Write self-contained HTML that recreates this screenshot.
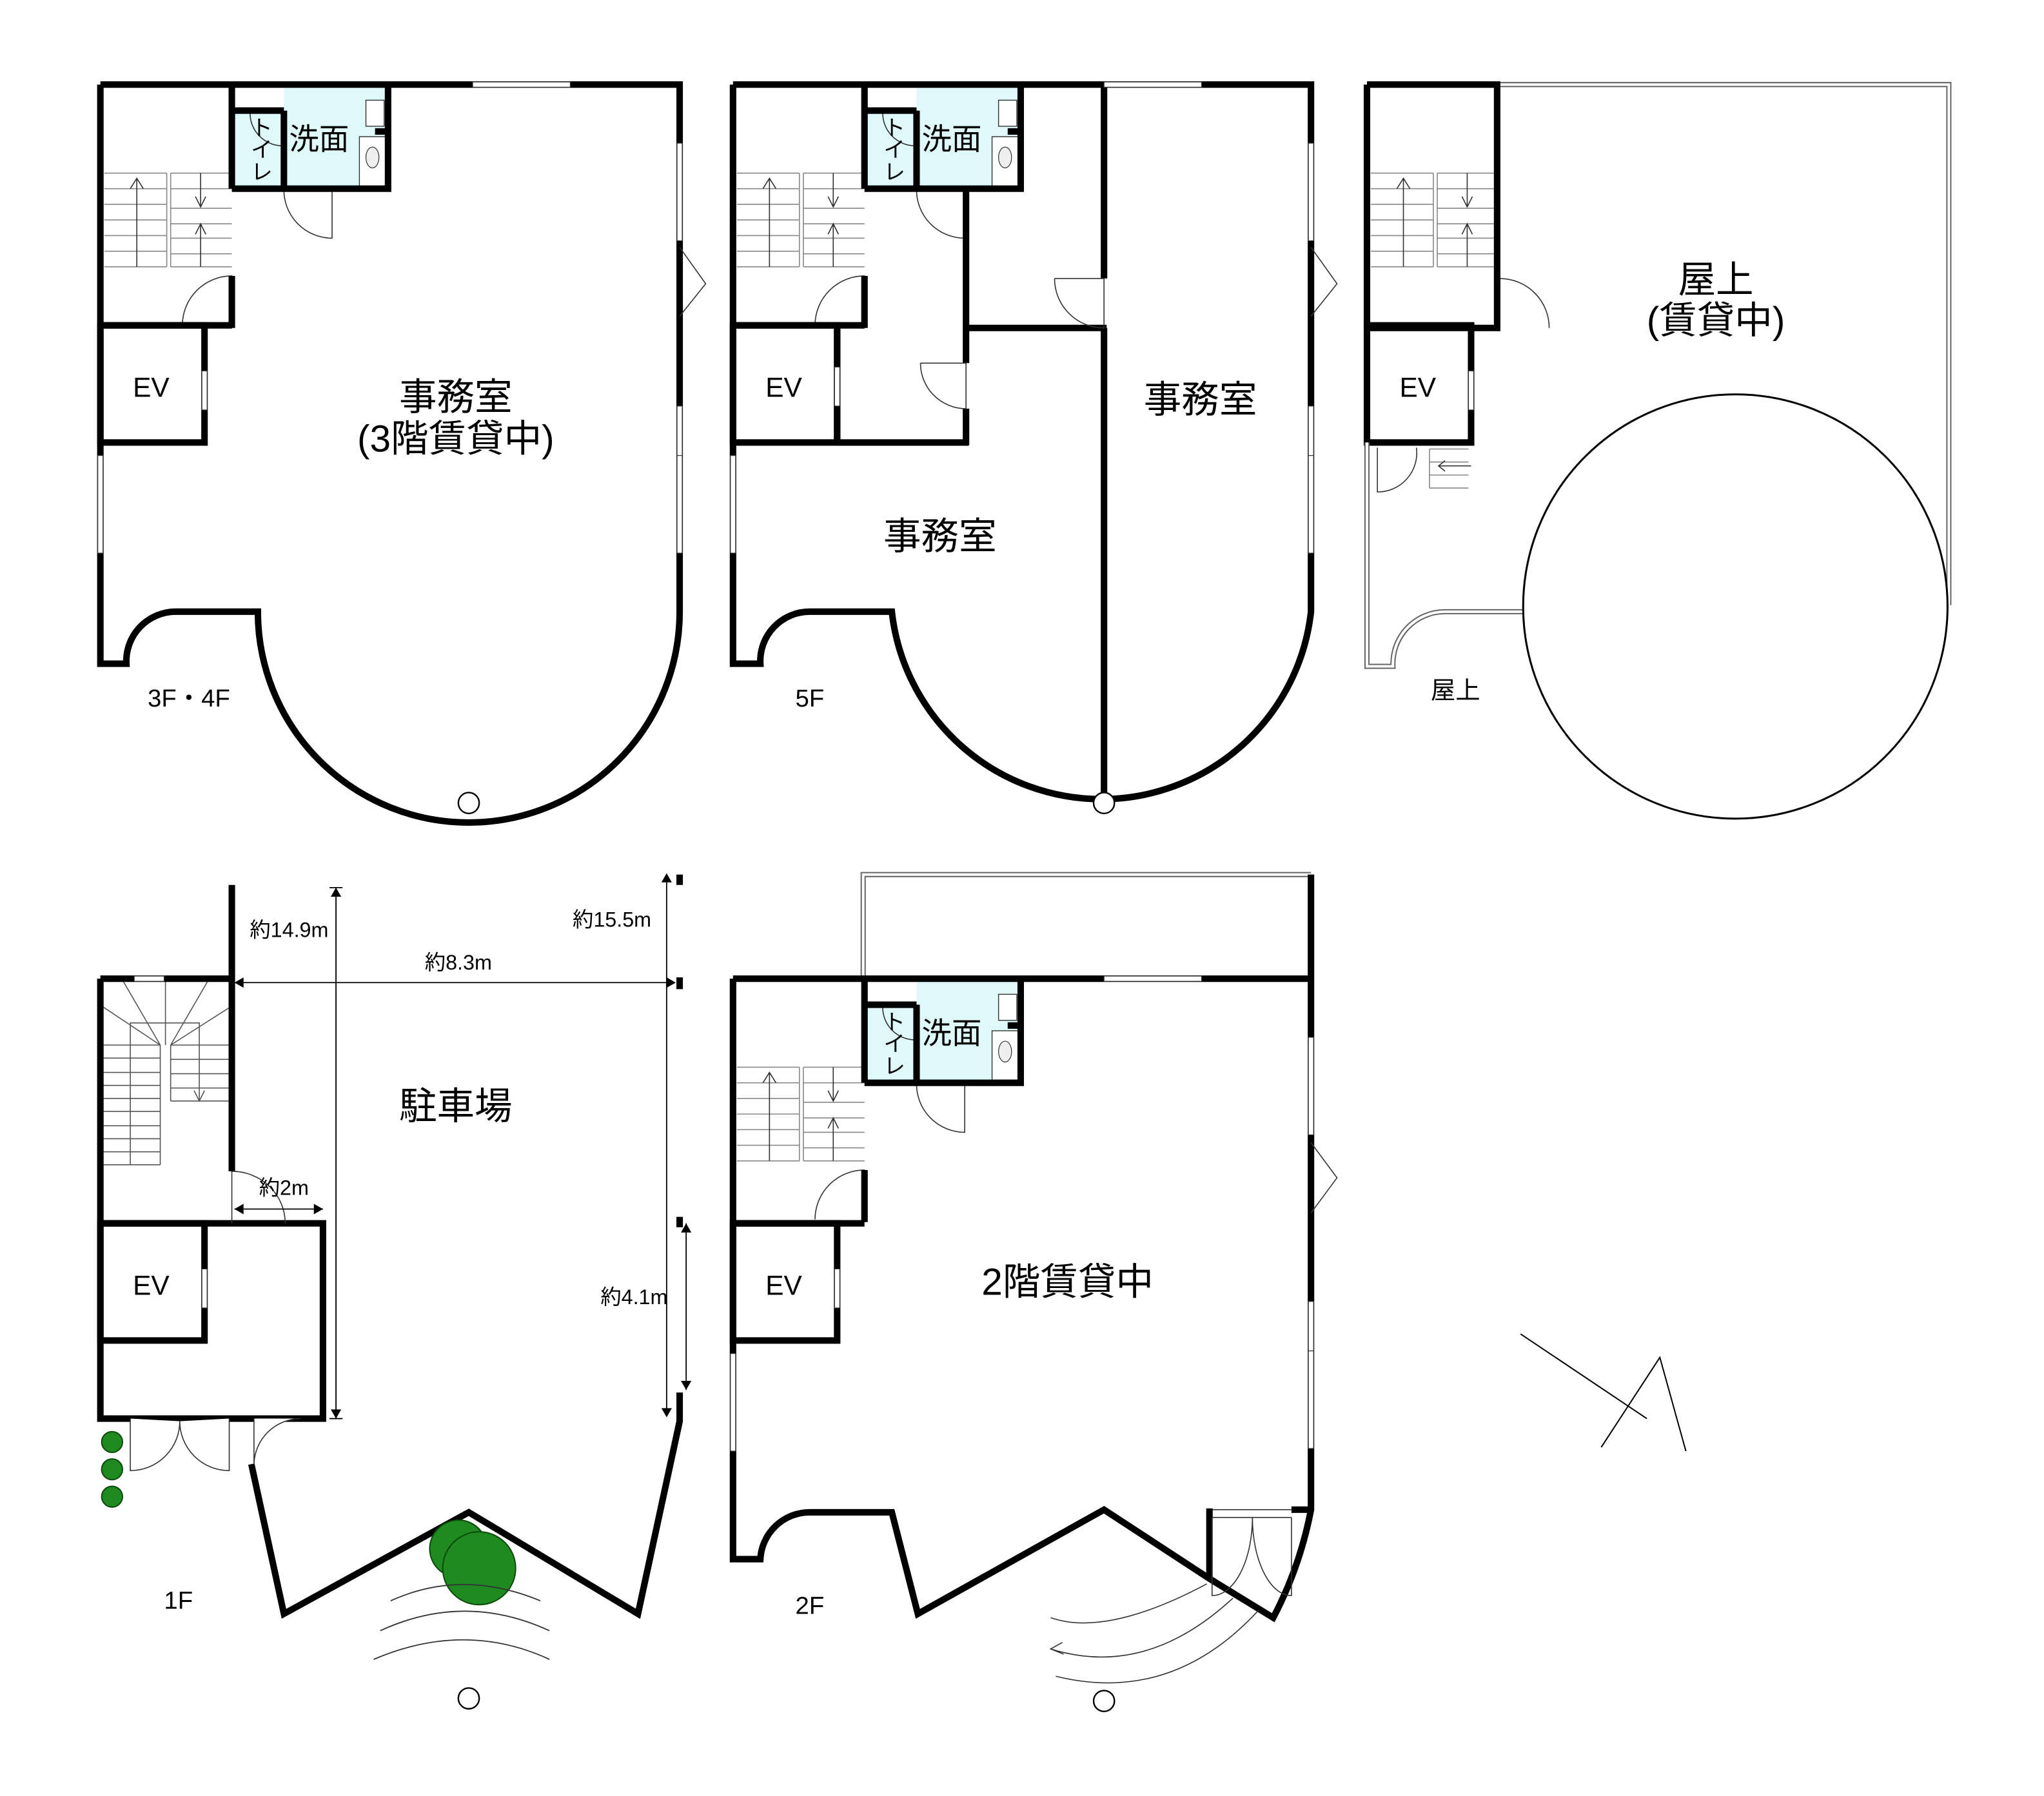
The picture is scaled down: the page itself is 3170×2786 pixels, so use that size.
<!DOCTYPE html>
<html><head><meta charset="utf-8"><style>
html,body{margin:0;padding:0;background:#fff;}
svg{display:block;}
text{font-family:"Liberation Sans","Noto Sans CJK JP",sans-serif;fill:#000;}
</style></head><body>
<svg width="3170" height="2786" viewBox="0 0 1570 1380" xmlns="http://www.w3.org/2000/svg">
<defs>
<g id="core">
 <rect x="101" y="3" width="40" height="77" fill="#dff9fb"/>
 <rect x="141" y="0" width="80" height="80" fill="#dff9fb"/>
 <rect x="101" y="0" width="40" height="20" fill="#fff"/>
 <g stroke="#888" stroke-width="0.8" fill="none">
  <path d="M3 68h48M3 80h48M3 92h48M3 104h48M3 116h48M3 128h48M3 140h48"/>
  <path d="M51 68v72"/>
  <path d="M54 68h47M54 80h47M54 95h47M54 107h47M54 118h47M54 130h47M54 140h47M54 68v72"/>
 </g>
 <g stroke="#333" stroke-width="0.8" fill="none">
  <path d="M28 140V72M23 80l5-8 5 8"/>
  <path d="M77 68v26M73 86l4 8 4-8"/>
  <path d="M77 140V107M73 115l4-8 4 8"/>
  <path d="M63 185A38 38 0 0 1 101 147V185"/>
  <path d="M141 80A37 37 0 0 0 178 118V80"/>
  <path d="M115 22a25 25 0 0 0 25 25"/>
 </g>
 <rect x="204" y="12" width="14" height="20" fill="#fff" stroke="#333" stroke-width="0.7"/>
 <rect x="199" y="40" width="20" height="38" fill="#fff" stroke="#333" stroke-width="0.7"/>
 <ellipse cx="209" cy="56" rx="5" ry="8" fill="#eee" stroke="#333" stroke-width="0.6"/>
 <rect x="145" y="-2" width="26" height="4" fill="#fff" stroke="#333" stroke-width="0.6"/>
 <g stroke="#000" stroke-width="5" fill="none">
  <path d="M101 0V80M101 147V187"/>
  <path d="M101 20H141M101 80H221V0M141 20V80"/>
  <path d="M211 36h10"/>
 </g>
 <text x="168" y="50" font-size="23" text-anchor="middle">洗面</text>
 <text x="122" y="24" font-size="17" text-anchor="start" writing-mode="tb">トイレ</text>
</g>
<g id="ev">
 <rect x="0" y="0" width="80" height="90" fill="none" stroke="#000" stroke-width="5"/>
 <rect x="78" y="35" width="4" height="30" fill="#fff" stroke="#333" stroke-width="0.6"/>
 <text x="39" y="55" font-size="21" text-anchor="middle">EV</text>
</g>
</defs>

<!-- ===== 3F・4F ===== -->
<g>
 <use href="#core" x="77" y="65"/>
 <use href="#ev" x="77" y="250"/>
 <path d="M77 250H178M77 65H522V470A162 162 0 0 1 198 470H135A38 38 0 0 0 97 510H77V65" fill="none" stroke="#000" stroke-width="5"/>
 <g fill="#fff" stroke="#333" stroke-width="0.6">
  <rect x="363" y="63" width="75" height="4"/>
  <rect x="520" y="110" width="4" height="75"/>
  <rect x="520" y="312" width="4" height="38"/>
  <rect x="520" y="350" width="4" height="75"/>
  <rect x="75" y="350" width="4" height="75"/>
 </g>
 <path d="M522 190L542 218L522 243" fill="none" stroke="#333" stroke-width="0.8"/>
 <circle cx="360" cy="617" r="8" fill="#fff" stroke="#000" stroke-width="1.2"/>
 <text x="350" y="315" font-size="29" text-anchor="middle">事務室</text>
 <text x="350" y="347" font-size="29" text-anchor="middle">(3階賃貸中)</text>
 <text x="145" y="543" font-size="19" text-anchor="middle">3F・4F</text>
</g>

<!-- ===== 5F ===== -->
<g>
 <use href="#core" x="563" y="65"/>
 <use href="#ev" x="563" y="250"/>
 <path d="M563 250H664M563 65H1007V470A162 162 0 0 1 685 470H622A38 38 0 0 0 584 510H563V65" fill="none" stroke="#000" stroke-width="5"/>
 <path d="M848 65V214M848 252V610M742 145V279M742 314V342M643 340H744M742 252H850M643 250V342" fill="none" stroke="#000" stroke-width="5"/>
 <g stroke="#333" stroke-width="0.8" fill="none">
  <path d="M810 214A38 38 0 0 0 848 252V214H810"/>
  <path d="M707 279A35 35 0 0 0 742 314V279H707"/>
 </g>
 <g fill="#fff" stroke="#333" stroke-width="0.6">
  <rect x="848" y="63" width="75" height="4"/>
  <rect x="1005" y="110" width="4" height="75"/>
  <rect x="1005" y="312" width="4" height="38"/>
  <rect x="1005" y="350" width="4" height="75"/>
  <rect x="561" y="350" width="4" height="75"/>
  <rect x="641" y="282" width="4" height="30"/>
 </g>
 <path d="M1007 190L1027 218L1007 243" fill="none" stroke="#333" stroke-width="0.8"/>
 <circle cx="848" cy="617" r="8" fill="#fff" stroke="#000" stroke-width="1.2"/>
 <text x="922" y="317" font-size="29" text-anchor="middle">事務室</text>
 <text x="722" y="422" font-size="29" text-anchor="middle">事務室</text>
 <text x="622" y="543" font-size="19" text-anchor="middle">5F</text>
</g>

<!-- ===== 屋上 ===== -->
<g>
 <g stroke="#888" stroke-width="0.8" fill="none">
  <path d="M1053 133h48M1053 145h48M1053 157h48M1053 169h48M1053 181h48M1053 193h48M1053 205h48M1101 133v72"/>
  <path d="M1104 133h46M1104 145h46M1104 160h46M1104 172h46M1104 183h46M1104 195h46M1104 205h46M1104 133v72"/>
  <path d="M1098 345h30M1098 355h30M1098 365h30M1098 375h30M1098 345v30"/>
 </g>
 <g stroke="#333" stroke-width="0.8" fill="none">
  <path d="M1078 205V137M1073 145l5-8 5 8"/>
  <path d="M1127 133v26M1123 151l4 8 4-8"/>
  <path d="M1127 205V172M1123 180l4-8 4 8"/>
  <path d="M1152 252V214A38 38 0 0 1 1190 252"/>
  <path d="M1058 344V378A30 30 0 0 0 1088 344"/>
  <path d="M1130 358h-25M1110 354l-5 4 5 4"/>
 </g>
 <use href="#ev" x="1050" y="250"/>
 <g fill="none" stroke="#666" stroke-width="4">
  <path d="M1150 65H1497V465M1050 340V512H1070A40 40 0 0 1 1110 470H1170"/>
 </g>
 <g fill="none" stroke="#fff" stroke-width="2">
  <path d="M1150 65H1497V465M1050 340V512H1070A40 40 0 0 1 1110 470H1170"/>
 </g>
 <path d="M1050 65H1150V252H1050V65M1150 65V214" fill="none" stroke="#000" stroke-width="5"/>
 <circle cx="1333" cy="466" r="163" fill="#fff" stroke="#000" stroke-width="1.5"/>
 <text x="1318" y="225" font-size="29" text-anchor="middle">屋上</text>
 <text x="1318" y="256" font-size="29" text-anchor="middle">(賃貸中)</text>
 <text x="1118" y="537" font-size="19" text-anchor="middle">屋上</text>
</g>

<!-- ===== 1F ===== -->
<g>
 <g stroke="#555" stroke-width="0.8" fill="none">
  <path d="M77 803h46M77 813h46M77 824h46M77 834h46M77 844h46M77 854h46M77 865h46M77 875h46M77 885h46M77 895h46M123 803v92M100 803v92"/>
  <path d="M100 803V786H153V846M127 752V803"/>
  <path d="M123 803L78 773M123 803L94 753M131 803L178 773M131 803L160 753"/>
  <path d="M131 803h47M131 814h47M131 825h47M131 836h47M131 846h47M131 803v43"/>
  <path d="M149 838l4 8 4-8"/>
 </g>
 <use href="#ev" x="77" y="940"/>
 <path d="M77 752H178M77 752V1090H248V940H157M178 680V900M76 940H250" fill="none" stroke="#000" stroke-width="5"/>
 <rect x="103" y="750" width="23" height="4" fill="#fff" stroke="#333" stroke-width="0.6"/>
 <path d="M178 900V940M178 900A41 40 0 0 1 219 940" fill="none" stroke="#333" stroke-width="0.8"/>
 <path d="M193 1125L218 1240L360 1162L490 1240L522 1092V1070" fill="none" stroke="#000" stroke-width="5"/>
 <g fill="#fff" stroke="#333" stroke-width="0.8">
  <path d="M100 1090V1130a38 38 0 0 0 38-38M176 1090V1130a38 38 0 0 1-38-38"/>
  <path d="M195 1090V1125a36 36 0 0 1 36-35"/>
 </g>
 <path d="M522 672v8M522 751v9M522 935v8" stroke="#000" stroke-width="5"/>
 <g stroke="#000" stroke-width="0.9" fill="none">
  <path d="M258 682V1090M253 682h10M253 1090h10"/>
  <path d="M512 672V1088"/>
  <path d="M180 755H518"/>
  <path d="M180 929H248"/>
  <path d="M527 940V1068"/>
 </g>
 <g fill="#000">
  <path d="M512 671l-4 7h8z"/><path d="M512 1089l-4-7h8z"/>
  <path d="M180 755l7-4v8z"/><path d="M519 755l-7-4v8z"/>
  <path d="M180 929l7-4v8z"/><path d="M248 929l-7-4v8z"/>
  <path d="M527 940l-4 7h8z"/><path d="M527 1068l-4-7h8z"/>
  <path d="M258 682l-4 7h8z"/><path d="M258 1090l-4-7h8z"/>
 </g>
 <text x="222" y="720" font-size="16" text-anchor="middle">約14.9m</text>
 <text x="470" y="712" font-size="16" text-anchor="middle">約15.5m</text>
 <text x="352" y="745" font-size="16" text-anchor="middle">約8.3m</text>
 <text x="218" y="918" font-size="16" text-anchor="middle">約2m</text>
 <text x="487" y="1002" font-size="16" text-anchor="middle">約4.1m</text>
 <text x="350" y="860" font-size="29" text-anchor="middle">駐車場</text>
 <g fill="#1f8a1f" stroke="#0a4a0a" stroke-width="1">
  <circle cx="352" cy="1190" r="22"/>
  <circle cx="368" cy="1205" r="28"/>
  <circle cx="86" cy="1108" r="8"/><circle cx="86" cy="1129" r="8"/><circle cx="86" cy="1150" r="8"/>
 </g>
 <g fill="none" stroke="#333" stroke-width="0.9">
  <path d="M300 1230q55-25 115 0M292 1253q65-30 130 0M287 1275q70-30 135 0"/>
 </g>
 <circle cx="360" cy="1305" r="8" fill="#fff" stroke="#000" stroke-width="1.2"/>
 <text x="137" y="1236" font-size="19" text-anchor="middle">1F</text>
</g>

<!-- ===== 2F ===== -->
<g>
 <use href="#core" x="563" y="752"/>
 <use href="#ev" x="563" y="940"/>
 <g fill="none" stroke="#666" stroke-width="4"><path d="M663 752V672H1007"/></g>
 <g fill="none" stroke="#fff" stroke-width="2"><path d="M663 752V672H1007"/></g>
 <path d="M563 940H664M563 752H1007V1160A300 300 0 0 1 978 1243L929 1213L848 1160L705 1240L685 1162H622A38 38 0 0 0 584 1198H563V752M1007 672V752M929 1213V1159M992 1160H1007" fill="none" stroke="#000" stroke-width="5"/>
 <g fill="#fff" stroke="#333" stroke-width="0.6">
  <rect x="848" y="750" width="75" height="4"/>
  <rect x="1005" y="797" width="4" height="75"/>
  <rect x="1005" y="1000" width="4" height="38"/>
  <rect x="1005" y="1038" width="4" height="75"/>
  <rect x="561" y="1040" width="4" height="75"/>
 </g>
 <path d="M1007 878L1027 905L1007 932" fill="none" stroke="#333" stroke-width="0.8"/>
 <g fill="none" stroke="#333" stroke-width="0.8">
  <path d="M931 1160H992M931 1166H992M931 1166V1226A31 60 0 0 0 962 1166A30 60 0 0 0 992 1226V1166"/>
  <path d="M807 1243Q850 1258 927 1217M807 1267Q880 1290 947 1228M811 1288Q900 1310 967 1237M816 1262l-9 5 10 4"/>
 </g>
 <circle cx="848" cy="1307" r="8" fill="#fff" stroke="#000" stroke-width="1.2"/>
 <text x="820" y="995" font-size="29" text-anchor="middle">2階賃貸中</text>
 <text x="622" y="1240" font-size="19" text-anchor="middle">2F</text>
</g>

<!-- compass -->
<g fill="none" stroke="#000" stroke-width="1">
 <path d="M1168 1025L1265 1090"/>
 <path d="M1230 1112L1275 1043L1295 1115"/>
</g>
</svg>
</body></html>
